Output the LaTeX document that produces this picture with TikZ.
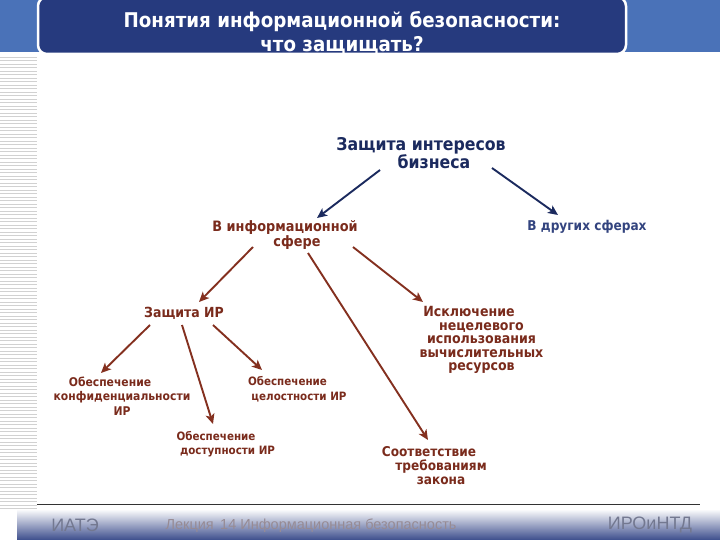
\documentclass[tikz,border=0pt]{standalone}
\usepackage{fontspec}
\usetikzlibrary{arrows.meta}
\setmainfont{DejaVu Sans}
\newfontfamily\dvb{DejaVu Sans}[FakeStretch=0.9]
\newfontfamily\libs{Liberation Sans}
\definecolor{bandblue}{HTML}{4A72B8}
\definecolor{titlenavy}{HTML}{263A7E}
\definecolor{navytxt}{HTML}{1B2A5E}
\definecolor{navytwo}{HTML}{33447F}
\definecolor{irbrown}{HTML}{7A2B1C}
\definecolor{arrbrown}{HTML}{84301F}
\definecolor{footblue}{HTML}{3C4D8C}
\definecolor{footgray}{HTML}{737890}
\definecolor{footpink}{HTML}{978B94}
\newcommand\lsh[1]{\hspace*{-#1}}
\newcommand\fsz[2]{\dvb\bfseries\fontsize{#1}{#2}\selectfont}
\begin{document}
\begin{tikzpicture}[x=1pt,y=-1pt,
  lbl/.style={inner sep=0pt, align=center},
  stripe/.style={draw=black!18, line width=0.8pt},
  navyarr/.style={draw=navytxt, line width=1.9pt, -{Stealth[length=10pt,width=9pt,inset=2.5pt]}},
  brarr/.style={draw=arrbrown, line width=1.9pt, -{Stealth[length=10pt,width=9pt,inset=2.5pt]}},
  foot/.style={inner sep=0pt, font=\libs\fontsize{18}{20}\selectfont, text=footgray}]
\useasboundingbox (0,0) rectangle (720,540);
\fill[white] (0,0) rectangle (720,540);
% left stripes
\foreach \y in {57,60.5,...,509} \draw[stripe] (0,\y) -- (37,\y);
% top band and title box
\fill[bandblue] (0,0) rectangle (720,52);
\draw[fill=titlenavy, draw=white, line width=2.5pt, rounded corners=9pt] (38,-3) rectangle (626,54);
\node[lbl, text=white, font=\fsz{20.3}{24}] (title) at (342,33)
  {Понятия информационной безопасности:\\что защищать?};
% footer
\draw[black!80, line width=1pt] (37,504) -- (700,504);
\shade[top color=white, bottom color=footblue] (17,509) rectangle (720,540);
\node[foot] (iate) at (75,525) {ИАТЭ};
\node[foot, font=\libs\fontsize{14.5}{16}\selectfont, text=footpink] (lect) at (311,526)
  {Лекция\, 14 Информационная безопасность};
\node[foot] (iro) at (650,525) {ИРОиНТД};
% diagram nodes
\node[lbl, text=navytxt, font=\fsz{17.5}{18.4}] (biz) at (434,153) {\lsh{26pt}Защита интересов\\бизнеса};
\node[lbl, text=navytwo, font=\fsz{13.5}{15}] (other) at (587,227) {В других сферах};
\node[lbl, text=irbrown, font=\fsz{14.3}{15}] (info) at (297,235) {\lsh{24pt}В информационной\\сфере};
\node[lbl, text=irbrown, font=\fsz{13.9}{15}] (zir) at (184,313) {Защита ИР};
\node[lbl, text=irbrown, font=\fsz{12}{14.5}] (conf) at (122,396) {\lsh{24pt}Обеспечение\\конфиденциальности\\ИР};
\node[lbl, text=irbrown, font=\fsz{11.5}{15}] (integ) at (299,389) {\lsh{23pt}Обеспечение\\целостности ИР};
\node[lbl, text=irbrown, font=\fsz{11.5}{14}] (avail) at (227.5,444) {\lsh{23pt}Обеспечение\\доступности ИР};
\node[lbl, text=irbrown, font=\fsz{14}{13.5}] (excl) at (481.5,340) {\lsh{25pt}Исключение\\нецелевого\\использования\\вычислительных\\ресурсов};
\node[lbl, text=irbrown, font=\fsz{13.5}{14}] (law) at (441,466) {\lsh{24pt}Соответствие\\требованиям\\закона};
% connectors
\draw[navyarr] ([shift={(-54,17)}]biz.center) -- ([shift={(20,-17)}]info.center);
\draw[navyarr] ([shift={(58,15)}]biz.center) -- ([shift={(-29,-12)}]other.center);
\draw[brarr] ([shift={(-44,12)}]info.center) -- ([shift={(15,-11)}]zir.center);
\draw[brarr] ([shift={(11,18)}]info.center) -- ([shift={(-13,-26)}]law.center);
\draw[brarr] ([shift={(56,12)}]info.center) -- ([shift={(-58.5,-38)}]excl.center);
\draw[brarr] ([shift={(-34,12)}]zir.center) -- ([shift={(-21,-23)}]conf.center);
\draw[brarr] ([shift={(-2,12)}]zir.center) -- ([shift={(-14.5,-20)}]avail.center);
\draw[brarr] ([shift={(29,12)}]zir.center) -- ([shift={(-37,-19)}]integ.center);
\end{tikzpicture}
\end{document}
